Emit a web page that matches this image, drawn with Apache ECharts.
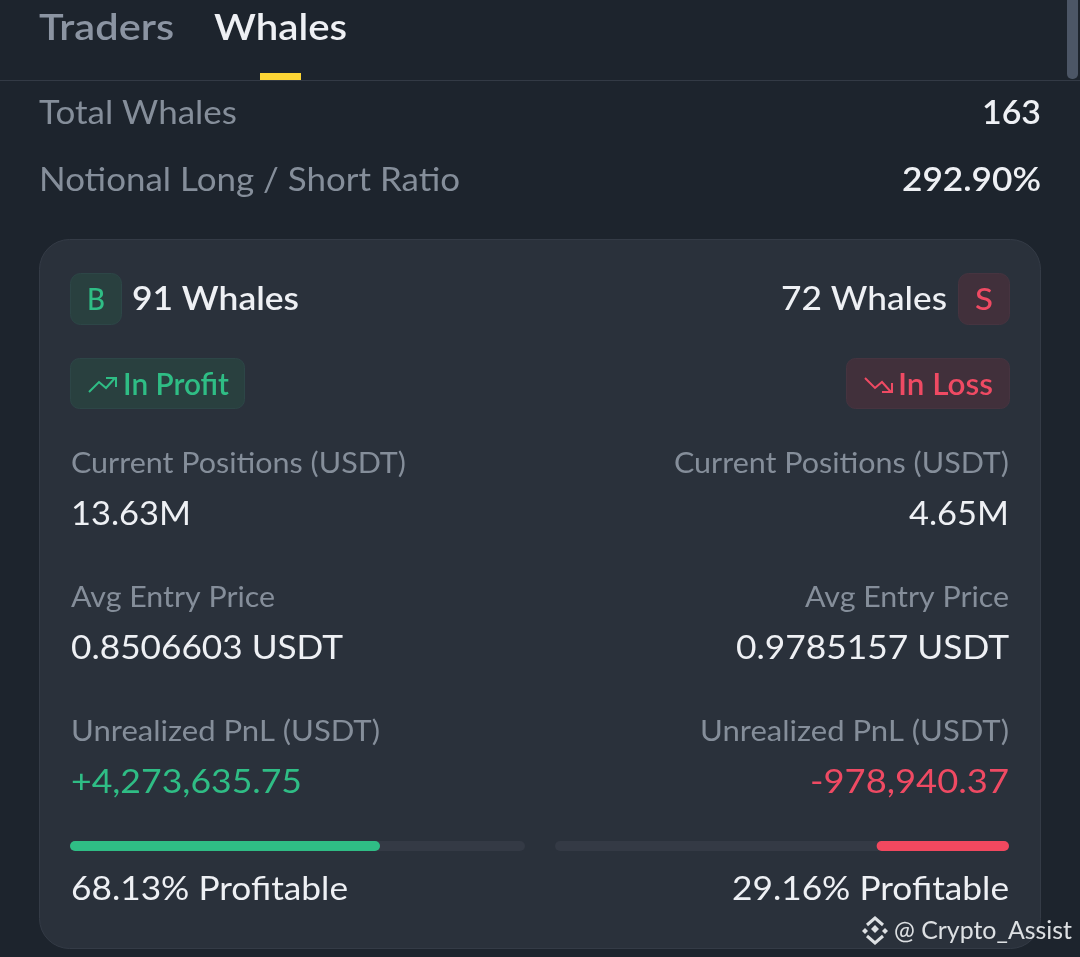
<!DOCTYPE html>
<html><head><meta charset="utf-8">
<style>html,body{margin:0;padding:0;background:#1d242d}#c{width:1080px;height:957px}</style>
<script src="https://cdn.jsdelivr.net/npm/echarts@6/dist/echarts.min.js"></script>
</head><body><div id="c"></div>
<script>
// ---- data ----
const tabs = ['Traders', 'Whales'];
const summaryLabels = ['Total Whales', 'Notional Long / Short Ratio'];
const summaryValues = ['163', '292.90%'];
const sideWhales = ['91 Whales', '72 Whales'];
const sideBadges = ['B', 'S'];
const sideStatus = ['In Profit', 'In Loss'];
const metricLabels = ['Current Positions (USDT)', 'Avg Entry Price', 'Unrealized PnL (USDT)'];
const longValues = ['13.63M', '0.8506603 USDT', '+4,273,635.75'];
const shortValues = ['4.65M', '0.9785157 USDT', '-978,940.37'];
const profitablePct = [68.13, 29.16];
const watermark = '@ Crypto_Assist';

// ---- styling ----
const FONT = 'Lato';
const WHITE = '#eef0f4', GRAY = '#858e9a', GREEN = '#2fbd85', RED = '#ef4a63';
const cv = document.createElement('canvas').getContext('2d');
function T(text, x, y, size, color, align, left, right, weight) {
  const w = weight || 400;
  cv.font = w + ' ' + size + 'px ' + FONT;
  const sx = (right - left) / cv.measureText(text).width;
  return { type: 'text', x: align === 'right' ? right : left, y: y, scaleX: sx, z: 20, silent: true,
    style: { text: text, x: 0, y: 0, fill: color, font: w + ' ' + size + 'px ' + FONT, textAlign: align || 'left', textVerticalAlign: 'middle' } };
}
function R(x, y, w, h, r, fill, stroke) {
  return { type: 'rect', z: 1, silent: true, shape: { x: x, y: y, width: w, height: h, r: r }, style: { fill: fill, stroke: stroke || null, lineWidth: stroke ? 1 : 0 } };
}
function L(points, color, lw) {
  return { type: 'polyline', z: 20, silent: true, shape: { points: points }, style: { stroke: color, lineWidth: lw || 2, fill: null, lineJoin: 'miter' } };
}
function P(points, color) {
  return { type: 'polygon', z: 20, silent: true, shape: { points: points }, style: { fill: color } };
}

const g = [
  // page chrome
  R(0, 80, 1080, 1, 0, '#333a45'),
  R(260, 73, 41, 7, 0, '#fcd535'),
  R(1067, -8, 11, 87, 5, '#4c5666'),
  // tabs and summary
  T(tabs[0], 39, 28, 36, '#8b94a2', 'left', 39, 174, 600),
  T(tabs[1], 0, 28, 36, WHITE, 'left', 214, 347, 600),
  T(summaryLabels[0], 0, 113, 33, GRAY, 'left', 39, 237),
  T(summaryLabels[1], 0, 180, 33, GRAY, 'left', 39, 460),
  T(summaryValues[0], 0, 113, 33, WHITE, 'right', 982, 1041, 600),
  T(summaryValues[1], 0, 180, 33, WHITE, 'right', 902, 1041, 600),
  // card
  R(39.5, 239.5, 1001, 709, 30, '#2a313b', '#343b46'),
  // badges
  R(70.5, 273.5, 51, 51, 10, '#29403f', '#2d4647'),
  R(958.5, 273.5, 51, 51, 10, '#41303b', '#463440'),
  T(sideBadges[0], 0, 300, 30, GREEN, 'left', 87, 105, 500),
  T(sideBadges[1], 0, 300, 30, RED, 'left', 975, 993, 500),
  T(sideWhales[0], 0, 299, 33, WHITE, 'left', 132, 299, 600),
  T(sideWhales[1], 0, 299, 33, WHITE, 'right', 781, 947, 500),
  // status pills
  R(70.5, 358.5, 174, 50, 9, '#29403f', '#2d4647'),
  R(846.5, 358.5, 163, 50, 9, '#41303b', '#463440'),
  L([[89, 392], [99, 382], [106, 388], [115, 378]], GREEN),
  L([[106, 378], [116, 378], [116, 387]], GREEN),
  L([[865, 378], [875, 388], [882, 382], [891, 392]], RED),
  L([[882, 392], [892, 392], [892, 383]], RED),
  T(sideStatus[0], 0, 385, 30, GREEN, 'left', 123, 229, 600),
  T(sideStatus[1], 0, 385, 30, RED, 'right', 898, 993, 600)
];

// metric rows
const rowLabelY = [464, 598, 732], rowValueY = [514, 648, 782];
const longRight = [191, 343, 302], shortLeft = [909, 736, 810];
const labelRight = [406, 275, 380], labelLeft = [674, 805, 700];
metricLabels.forEach(function (lab, i) {
  g.push(T(lab, 0, rowLabelY[i], 28, GRAY, 'left', 71, labelRight[i]));
  g.push(T(lab, 0, rowLabelY[i], 28, GRAY, 'right', labelLeft[i], 1009));
  g.push(T(longValues[i], 0, rowValueY[i], 33, i === 2 ? GREEN : WHITE, 'left', 71, longRight[i]));
  g.push(T(shortValues[i], 0, rowValueY[i], 33, i === 2 ? RED : WHITE, 'right', shortLeft[i], 1009));
});
g.push(T(profitablePct[0].toFixed(2) + '% Profitable', 0, 889, 33, WHITE, 'left', 71, 348));
g.push(T(profitablePct[1].toFixed(2) + '% Profitable', 0, 889, 33, WHITE, 'right', 732, 1009));

// watermark
const WM = '#dde0e3';
g.push(T(watermark, 0, 931, 25, WM, 'left', 894, 1072));
g.push(P([[875, 925], [879, 929], [875, 933], [871, 929]], WM));
g.push(P([[862, 931], [865, 928], [868, 931], [865, 934]], WM));
g.push(P([[882, 931], [885, 928], [888, 931], [885, 934]], WM));
g.push(L([[867, 925], [875, 918], [883, 925]], WM, 3));
g.push(L([[867, 936], [875, 943], [883, 936]], WM, 3));

const chart = echarts.init(document.getElementById('c'), null, { renderer: 'canvas' });
const barBase = { type: 'bar', barWidth: 10, silent: true, z: 10, animation: false, showBackground: true,
  backgroundStyle: { color: '#343a45', borderRadius: 5 } };
chart.setOption({
  backgroundColor: '#1d242d',
  animation: false,
  grid: [
    { left: 70, top: 841, width: 455, height: 10 },
    { left: 555, top: 841, width: 454, height: 10 }
  ],
  xAxis: [
    { gridIndex: 0, type: 'value', min: 0, max: 100, show: false },
    { gridIndex: 1, type: 'value', min: 0, max: 100, show: false, inverse: true }
  ],
  yAxis: [
    { gridIndex: 0, type: 'category', data: ['Long'], show: false },
    { gridIndex: 1, type: 'category', data: ['Short'], show: false }
  ],
  series: [
    Object.assign({}, barBase, { xAxisIndex: 0, yAxisIndex: 0, data: [profitablePct[0]], itemStyle: { color: GREEN, borderRadius: 5 } }),
    Object.assign({}, barBase, { xAxisIndex: 1, yAxisIndex: 1, data: [profitablePct[1]], itemStyle: { color: '#f2485f', borderRadius: 5 } })
  ],
  graphic: { elements: g }
});
</script></body></html>
